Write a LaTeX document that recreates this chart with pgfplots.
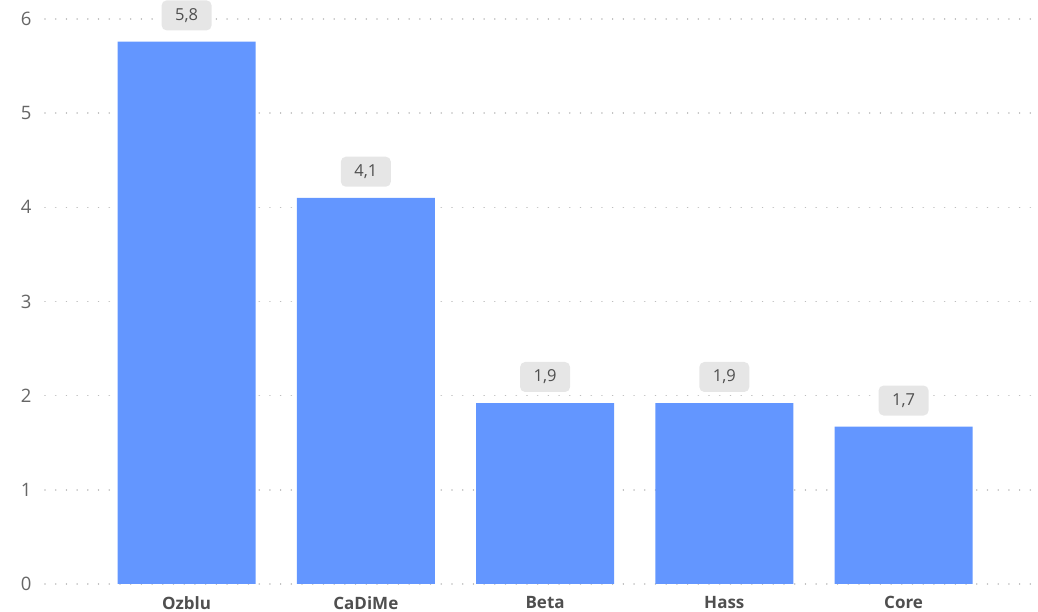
\documentclass[border=0pt]{standalone}
\usepackage{pgfplots}
\pgfplotsset{compat=1.18}
\usepackage{fontspec}
\setmainfont{Open Sans}
\definecolor{barblue}{HTML}{6396FF}
\definecolor{ticktxt}{HTML}{666666}
\definecolor{cattxt}{HTML}{4F4F4F}
\definecolor{lblbg}{HTML}{E6E6E6}
\definecolor{gridc}{HTML}{BDBDBD}
\begin{document}
\begin{tikzpicture}
\begin{axis}[
  scale only axis, width=993pt, height=565pt,
  xmin=-0.79, xmax=4.75, ymin=0, ymax=6,
  axis line style={draw=none},
  major tick length=0pt,
  ybar, bar width=138pt,
  ytick={0,1,2,3,4,5,6},
  xtick={0,1,2,3,4},
  xticklabels={Ozblu,CaDiMe,Beta,Hass,Core},
  ymajorgrids,
  major grid style={gridc, line width=1.6pt, dash pattern=on 0.01pt off 10.7pt, line cap=round},
  xticklabel style={font=\fontsize{17}{18}\selectfont\bfseries, text=cattxt, yshift=-9pt},
  yticklabel style={font=\fontsize{18.5}{20}\selectfont, text=ticktxt, xshift=-10pt,
    /pgf/number format/assume math mode=true},
  nodes near coords={\pgfmathprintnumber[fixed,fixed zerofill,precision=1,use comma,assume math mode=true]{\pgfplotspointmeta}},
  nodes near coords style={fill=lblbg, rounded corners=5pt, text=cattxt,
    font=\fontsize{16.5}{18}\selectfont, minimum width=50pt, minimum height=30pt,
    inner sep=0pt, anchor=south, yshift=11pt},
]
\addplot[fill=barblue, draw=none] coordinates {(0,5.76) (1,4.10) (2,1.92) (3,1.92) (4,1.67)};
\coordinate (sw) at (rel axis cs:0,0);
\coordinate (ne) at (rel axis cs:1,1);
\end{axis}
\pgfresetboundingbox
\path[use as bounding box] ([shift={(-45pt,-28pt)}]sw) rectangle ([shift={(0pt,19pt)}]ne);
\end{tikzpicture}
\end{document}
